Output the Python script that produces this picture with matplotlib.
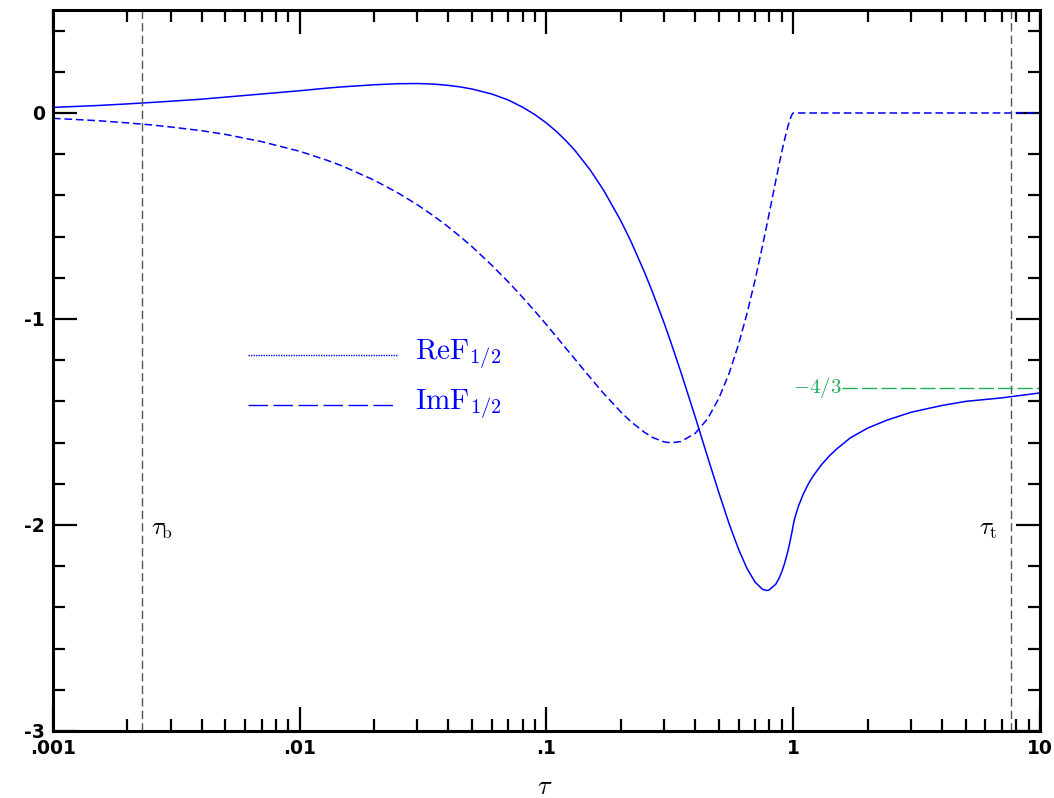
import matplotlib
matplotlib.use("Agg")
from matplotlib import pyplot as plt
from matplotlib.ticker import FixedLocator, NullFormatter, LogLocator

plt.rcParams["mathtext.fontset"] = "cm"

tau_re = [0.001, 0.0015, 0.002, 0.0025, 0.003, 0.004, 0.005, 0.007, 0.01, 0.013,
          0.015, 0.02, 0.025, 0.03, 0.035, 0.04, 0.045, 0.05, 0.06, 0.07,
          0.08, 0.09, 0.1, 0.11, 0.12, 0.13, 0.15, 0.17, 0.2, 0.22,
          0.25, 0.27, 0.3, 0.32, 0.35, 0.4, 0.45, 0.5, 0.55, 0.6,
          0.65, 0.7, 0.75, 0.78, 0.8, 0.85, 0.88, 0.9, 0.92, 0.95,
          0.97, 0.98, 0.99, 1.0, 1.01, 1.02, 1.05, 1.1, 1.15, 1.2,
          1.3, 1.4, 1.5, 1.7, 2.0, 2.4, 3.0, 4.0, 5.0, 7.0, 10.0]
re_vals = [0.027, 0.036, 0.044, 0.051, 0.057, 0.067, 0.077, 0.092, 0.108, 0.121,
           0.127, 0.137, 0.142, 0.143, 0.140, 0.134, 0.126, 0.116, 0.092, 0.063,
           0.028, -0.009, -0.049, -0.091, -0.135, -0.180, -0.275, -0.373, -0.523, -0.624,
           -0.775, -0.875, -1.021, -1.117, -1.256, -1.473, -1.671, -1.845, -1.995, -2.117,
           -2.212, -2.277, -2.312, -2.318, -2.315, -2.287, -2.254, -2.225, -2.191, -2.13,
           -2.082, -2.056, -2.029, -2.0, -1.976, -1.957, -1.908, -1.848, -1.802, -1.765,
           -1.708, -1.665, -1.631, -1.578, -1.53, -1.491, -1.453, -1.42, -1.40, -1.383, -1.359]

tau_im = [0.001, 0.0015, 0.002, 0.0025, 0.003, 0.004, 0.005, 0.007, 0.01, 0.013,
          0.015, 0.02, 0.025, 0.03, 0.035, 0.04, 0.045, 0.05, 0.06, 0.07,
          0.08, 0.09, 0.1, 0.11, 0.12, 0.13, 0.15, 0.17, 0.2, 0.22,
          0.25, 0.27, 0.3, 0.32, 0.35, 0.4, 0.45, 0.5, 0.55, 0.6,
          0.65, 0.7, 0.75, 0.78, 0.8, 0.85, 0.88, 0.9, 0.92, 0.95,
          0.97, 0.98, 0.99, 1.0, 10.0]
im_vals = [-0.026, -0.037, -0.048, -0.058, -0.068, -0.086, -0.104, -0.139, -0.186, -0.231,
           -0.259, -0.326, -0.388, -0.446, -0.501, -0.553, -0.603, -0.650, -0.739, -0.820,
           -0.895, -0.964, -1.028, -1.088, -1.143, -1.193, -1.283, -1.360, -1.451, -1.499,
           -1.551, -1.576, -1.597, -1.601, -1.595, -1.556, -1.484, -1.384, -1.263, -1.124,
           -0.972, -0.812, -0.647, -0.549, -0.484, -0.327, -0.240, -0.185, -0.135, -0.068,
           -0.032, -0.018, -0.006, 0.0, 0.0]

tau_b = 0.00229
tau_t = 7.63
limit_val = -4 / 3

x_ticks = [0.001, 0.01, 0.1, 1, 10]
x_labels = [".001", ".01", ".1", "1", "10"]
y_ticks = [-3, -2, -1, 0]
y_labels = ["-3", "-2", "-1", "0"]

fig = plt.figure(figsize=(10.54, 7.98), dpi=100)
ax = fig.add_axes([0.0503, 0.0840, 0.9364, 0.9035])

blue = "#0000ff"
ax.plot(tau_re, re_vals, color=blue, lw=1.1)
ax.plot(tau_im, im_vals, color=blue, lw=1.1, dashes=(5, 2.5))

# senkrechte Linien tau_b / tau_t
for _t in (tau_b, tau_t):
    ax.axvline(_t, color="#555555", lw=1.0, dashes=(6, 3))
ax.text(0.0025, -2.02, r"$\tau_{\rm b}$", fontsize=18, ha="left", va="center")
ax.text(5.65, -2.02, r"$\tau_{\rm t}$", fontsize=18, ha="left", va="center")

# Grenzwert -4/3
green = "#1fae5a"
ax.plot([1.58, 10], [limit_val, limit_val], color=green, lw=1.0, dashes=(11, 3))
ax.text(1.0, limit_val, r"$-4/3$", color=green, fontsize=15, ha="left", va="center")

# Legende von Hand
ax.plot([0.1976, 0.3495], [0.5215, 0.5215], transform=ax.transAxes, color=blue, lw=1.0, ls=(0, (1, 0.8)))
ax.plot([0.1976, 0.3495], [0.452, 0.452], transform=ax.transAxes, color=blue, lw=1.0, dashes=(14, 4))
ax.text(0.3668, 0.5215, r"$\mathrm{ReF}_{1/2}$", transform=ax.transAxes, color=blue, fontsize=21, va="center")
ax.text(0.3668, 0.452, r"$\mathrm{ImF}_{1/2}$", transform=ax.transAxes, color=blue, fontsize=21, va="center")

ax.set_xscale("log")
ax.set_xlim(0.001, 10)
ax.set_ylim(-3, 0.5)

ax.xaxis.set_major_locator(FixedLocator(x_ticks))
ax.set_xticklabels(x_labels)
ax.xaxis.set_minor_locator(LogLocator(base=10, subs=range(2, 10)))
ax.xaxis.set_minor_formatter(NullFormatter())
ax.yaxis.set_major_locator(FixedLocator(y_ticks))
ax.set_yticklabels(y_labels)
ax.yaxis.set_minor_locator(FixedLocator([-2.8, -2.6, -2.4, -2.2, -1.8, -1.6, -1.4, -1.2,
                                         -0.8, -0.6, -0.4, -0.2, 0.2, 0.4]))

ax.tick_params(which="both", direction="in", top=True, right=True, width=1.6)
ax.tick_params(which="major", length=17, pad=6, labelsize=13.5)
ax.tick_params(which="minor", length=8.5)
for _lab in ax.get_xticklabels() + ax.get_yticklabels():
    _lab.set_fontweight("bold")
for _sp in ax.spines.values():
    _sp.set_linewidth(2.2)

fig.text(545 / 1054, 1 - 787 / 798, r"$\tau$", fontsize=19, ha="center", va="center")

fig.savefig("out.png", dpi=100)
